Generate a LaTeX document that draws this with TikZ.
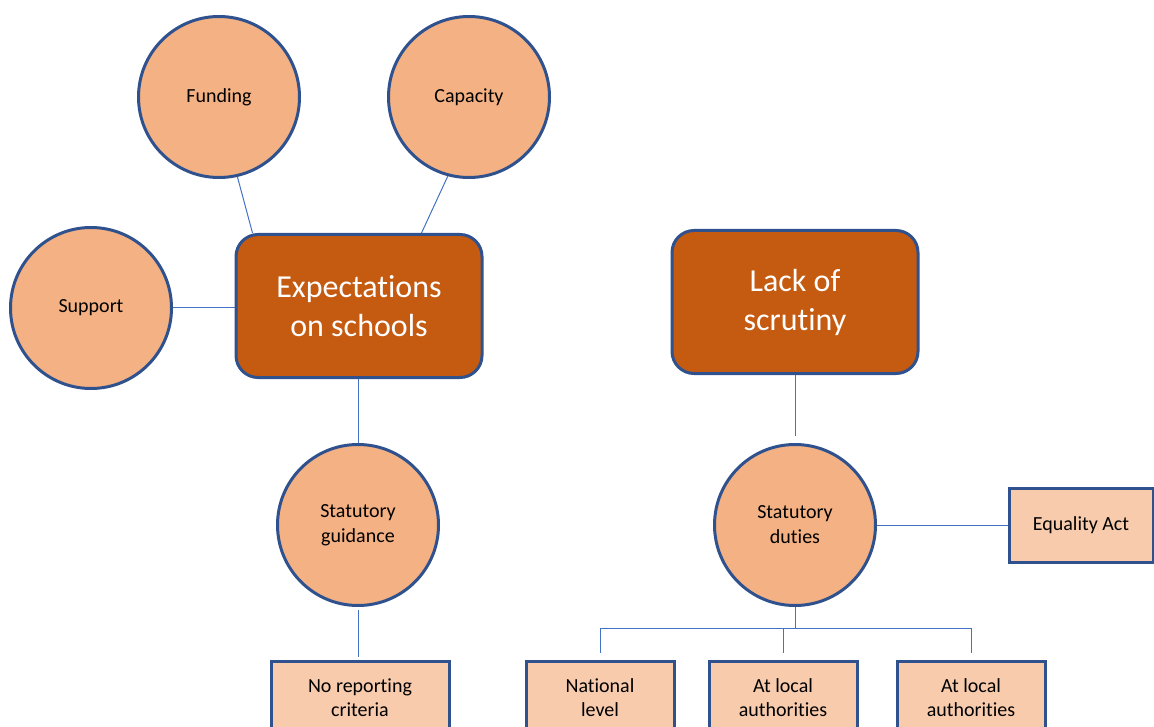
\documentclass[tikz,border=0pt]{standalone}
\usepackage{fontspec}
\setmainfont{Carlito}[Ligatures={NoCommon}]
\usetikzlibrary{positioning}

\definecolor{ringblue}{HTML}{2F528F}
\definecolor{linkblue}{HTML}{4472C4}
\definecolor{peach}{HTML}{F4B183}
\definecolor{rust}{HTML}{C55A11}
\definecolor{pale}{HTML}{F8CBAD}

\begin{document}
\begin{tikzpicture}[
  x=1pt, y=-1pt,
  factor/.style={circle, draw=ringblue, line width=3pt, fill=peach, minimum size=161pt, inner sep=0pt, align=center, font=\fontsize{20}{25}\selectfont},
  theme/.style={rectangle, rounded corners=22pt, draw=ringblue, line width=3pt, fill=rust, text=white, minimum width=246pt, minimum height=143pt, align=center, font=\fontsize{32}{39}\selectfont},
  leaf/.style={rectangle, draw=ringblue, line width=3pt, fill=pale, minimum width=148pt, minimum height=72pt, inner sep=0pt, align=center, font=\fontsize{20}{24}\selectfont},
  link/.style={draw=linkblue, line width=1pt}
]
\useasboundingbox (0,0) rectangle (1154,727);

% Left side: expectations on schools
\node[theme] (expect) at (359,306) {Expectations\\on schools};
\node[factor] (funding) at (219,97) {Funding};
\node[factor] (capacity) at (469,97) {Capacity};
\node[factor] (support) at (91,308) {Support};
\node[factor] (guidance) at (358,525) {Statutory\\guidance};
\node[leaf, minimum width=178pt, anchor=north] (noreport) at (360,660) {No reporting\\criteria};

\draw[link] (funding.283) -- ([xshift=18pt]expect.north west);
\draw[link] (capacity.255) -- ([xshift=-62pt]expect.north east);
\draw[link] (support.east) -- (support.east -| expect.west);
\draw[link] (guidance.north |- expect.south) -- (guidance.north);
\draw[link, shorten <=3pt, shorten >=3pt] (guidance.south) -- (guidance.south |- noreport.north);

% Right side: lack of scrutiny
\node[theme] (scrutiny) at (795,302) {Lack of\\scrutiny};
\node[factor] (duties) at (795,525) {Statutory\\duties};
\node[leaf, minimum width=144pt, minimum height=74pt] (equality) at (1081,525) {Equality Act};
\node[leaf, anchor=north] (national) at (600,660) {National\\level};
\node[leaf, anchor=north] (localA) at (783,660) {At local\\authorities};
\node[leaf, anchor=north] (localB) at (971,660) {At local\\authorities};

\draw[link, shorten >=7pt] (scrutiny.south) -- (duties.north);
\draw[link] (duties.east) -- (duties.east -| equality.west);

% Tree below statutory duties
\coordinate (hub) at (795,628);
\draw[link] (duties.south) -- (hub);
\draw[link] (national.north |- hub) -- (localB.north |- hub);
\foreach \b in {national, localA, localB}
  \draw[link, shorten >=7pt] (\b.north |- hub) -- (\b.north);

\end{tikzpicture}
\end{document}
